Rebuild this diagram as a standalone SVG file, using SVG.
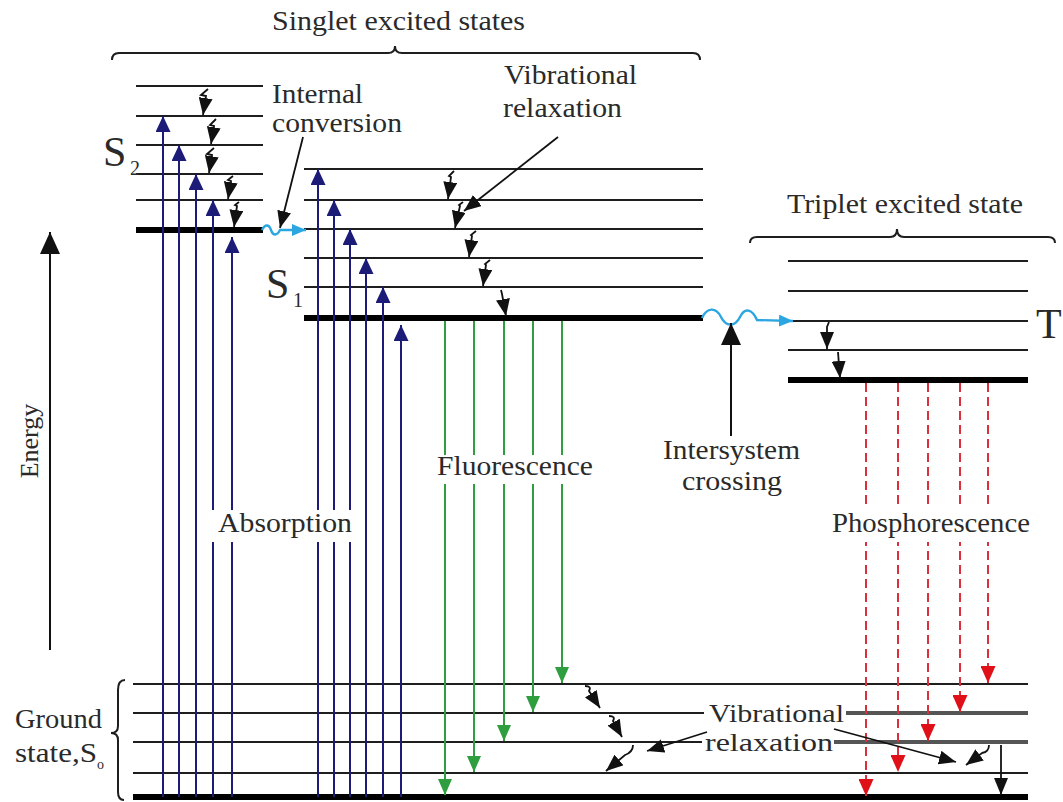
<svg xmlns="http://www.w3.org/2000/svg" width="1063" height="802" viewBox="0 0 1063 802">
<style>
.lv{stroke:#1e1e1e;stroke-width:2;fill:none}
.lvt{stroke:#000;stroke-width:6;fill:none}
.brace{stroke:#1e1e1e;stroke-width:2;fill:none}
.abs{stroke:#1c1c78;stroke-width:2;fill:none;marker-end:url(#hNavy)}
.flu{stroke:#2e9e3e;stroke-width:2;fill:none;marker-end:url(#hGreen)}
.pho{stroke:#d8303c;stroke-width:2;stroke-dasharray:9 5;fill:none;marker-end:url(#hRed)}
.vr{stroke:#111;stroke-width:1.8;fill:none;marker-end:url(#hBlack)}
.wave{stroke:#2ba6e1;stroke-width:2.4;fill:none;marker-end:url(#hCyan)}
.big{stroke:#111;stroke-width:2;fill:none;marker-end:url(#hBig)}
.t{font-family:'Liberation Serif','Times New Roman',Times,serif;font-size:28px;fill:#2a2a2a}
.st{font-family:'Liberation Serif','Times New Roman',Times,serif;font-size:42px;fill:#2a2a2a}
.sub{font-family:'Liberation Serif','Times New Roman',Times,serif;font-size:20px;fill:#2a2a2a}
.bg{fill:#fff}
</style>
<defs>
<marker id="hNavy" markerUnits="userSpaceOnUse" viewBox="0 0 16 15" markerWidth="16" markerHeight="15" refX="16" refY="7.5" orient="auto"><path d="M0,0L16,7.5L0,15z" fill="#1c1c78"/></marker>
<marker id="hGreen" markerUnits="userSpaceOnUse" viewBox="0 0 16 14" markerWidth="16" markerHeight="14" refX="16" refY="7" orient="auto"><path d="M0,0L16,7L0,14z" fill="#2e9e3e"/></marker>
<marker id="hRed" markerUnits="userSpaceOnUse" viewBox="0 0 17 15" markerWidth="17" markerHeight="15" refX="17" refY="7.5" orient="auto"><path d="M0,0L17,7.5L0,15z" fill="#e01018"/></marker>
<marker id="hBlack" markerUnits="userSpaceOnUse" viewBox="0 0 17 14" markerWidth="17" markerHeight="14" refX="17" refY="7" orient="auto"><path d="M0,0L17,7L0,14z" fill="#111"/></marker>
<marker id="hCyan" markerUnits="userSpaceOnUse" viewBox="0 0 14 12" markerWidth="14" markerHeight="12" refX="14" refY="6" orient="auto"><path d="M0,0L14,6L0,12z" fill="#2ba6e1"/></marker>
<marker id="hBig" markerUnits="userSpaceOnUse" viewBox="0 0 22 20" markerWidth="22" markerHeight="20" refX="22" refY="10" orient="auto"><path d="M0,0L22,10L0,20z" fill="#111"/></marker>
</defs>
<rect width="1063" height="802" fill="#fff"/>

<g id="braces">
<path class="brace" d="M112,60 Q112,53 119,53 L388,53 Q395,53 395,46 Q395,53 402,53 L693,53 Q700,53 700,60"/>
<path class="brace" d="M750,243 Q750,237 757,237 L890,237 Q897,237 897,229 Q897,237 904,237 L1048,237 Q1055,237 1055,243"/>
<path class="brace" d="M125,680 Q118,680 118,690 L118,726 Q118,733 111,733 Q118,733 118,740 L118,792 Q118,800 124,800"/>
</g>

<g id="S2">
<path class="lv" d="M136,86H263M136,116H263M136,145H263M136,174H263M136,200H263"/>
<path class="lvt" d="M136,230H263"/>
</g>
<g id="S1">
<path class="lv" d="M304,169H703M304,200H703M304,229H703M304,258H703M304,287H703"/>
<path class="lvt" d="M304,318H703"/>
</g>
<g id="T">
<path class="lv" d="M788,261H1028M788,291H1028M788,321H1028M788,350H1028"/>
<path class="lvt" d="M788,380H1028"/>
</g>
<g id="S0">
<path class="lv" d="M133,684H1028M133,713H1028M133,742H1028M133,773H1028"/>
<path class="lvt" d="M133,797H1028"/>
<path d="M846,713H1028M834,742H1028" stroke="#555" stroke-width="4" fill="none"/>
</g>

<g id="connectors">
<path class="abs" d="M163,797V116"/>
<path class="abs" d="M179,797V145"/>
<path class="abs" d="M196,797V174"/>
<path class="abs" d="M213,797V200"/>
<path class="abs" d="M232,797V237"/>
<path class="abs" d="M318,797V169"/>
<path class="abs" d="M334,797V200"/>
<path class="abs" d="M350,797V229"/>
<path class="abs" d="M366,797V258"/>
<path class="abs" d="M383,797V287"/>
<path class="abs" d="M401,797V325"/>
<path class="flu" d="M445,321V795"/>
<path class="flu" d="M474,321V772"/>
<path class="flu" d="M504,321V741"/>
<path class="flu" d="M533,321V712"/>
<path class="flu" d="M562,321V683"/>
<path class="pho" d="M866,383V796"/>
<path class="pho" d="M898,383V772"/>
<path class="pho" d="M928,383V741"/>
<path class="pho" d="M960,383V712"/>
<path class="pho" d="M988,383V683"/>
<path class="vr" d="M208,89L201,95L206,96L203,115"/>
<path class="vr" d="M216,119L210,125L214,126L211,144"/>
<path class="vr" d="M214,148L207,154L212,155L209,173"/>
<path class="vr" d="M233,176L228,180L231,181L228,199"/>
<path class="vr" d="M239,202L235,205L237,206L234,227"/>
<path class="vr" d="M454,171L449,176L451,177L448,199"/>
<path class="vr" d="M463,202L459,205L460,206L455,228"/>
<path class="vr" d="M476,231L471,235L472,236L469,257"/>
<path class="vr" d="M490,260L485,264L486,265L483,286"/>
<path class="vr" d="M501,290L502,294L506,316"/>
<path class="vr" d="M829,322L827,327L827,349"/>
<path class="vr" d="M838,352L840,378"/>
<path class="vr" d="M585,686Q592,686 589,691L600,708"/>
<path class="vr" d="M609,716Q616,716 613,721L622,737"/>
<path class="vr" d="M633,745Q633,752 625,755L606,771"/>
<path class="vr" d="M989,745Q989,752 982,753L966,765"/>
<path class="vr" d="M1001,745V795"/>
<path class="wave" d="M262,230C265,224 269,224 271,230C273,236 277,236 280,230L306,230"/>
<path class="wave" d="M702,318C707,307 716,307 721,317C726,327 735,327 740,317C745,307 752,309 757,320L793,321"/>
<path class="vr" d="M303,137L280,228"/>
<path class="vr" d="M558,137L464,211"/>
<path class="big" d="M731,436V323"/>
<path class="big" d="M50,650V232"/>
</g>

<g id="labels" font-family="Liberation Serif, Times New Roman, serif">
<text class="t" x="272" y="30" textLength="253" lengthAdjust="spacingAndGlyphs">Singlet excited states</text>
<text class="t" x="787" y="213" textLength="236" lengthAdjust="spacingAndGlyphs">Triplet excited state</text>
<text class="t" x="272" y="103" textLength="91" lengthAdjust="spacingAndGlyphs">Internal</text>
<text class="t" x="272" y="132" textLength="130" lengthAdjust="spacingAndGlyphs">conversion</text>
<text class="t" x="504" y="84" textLength="133" lengthAdjust="spacingAndGlyphs">Vibrational</text>
<text class="t" x="503" y="117" textLength="119" lengthAdjust="spacingAndGlyphs">relaxation</text>
<text class="t" x="663" y="459" textLength="137" lengthAdjust="spacingAndGlyphs">Intersystem</text>
<text class="t" x="682" y="490" textLength="100" lengthAdjust="spacingAndGlyphs">crossing</text>
<rect class="bg" x="434" y="455" width="163" height="29"/>
<text class="t" x="437" y="475" textLength="156" lengthAdjust="spacingAndGlyphs">Fluorescence</text>
<rect class="bg" x="208" y="510" width="147" height="32"/>
<text class="t" x="218" y="532" textLength="134" lengthAdjust="spacingAndGlyphs">Absorption</text>
<rect class="bg" x="828" y="509" width="206" height="33"/>
<text class="t" x="832" y="532" textLength="198" lengthAdjust="spacingAndGlyphs">Phosphorescence</text>
<text class="t" transform="translate(38,441) rotate(-90)" text-anchor="middle" style="font-size:26px">Energy</text>
<text class="t" x="15" y="728" textLength="87" lengthAdjust="spacingAndGlyphs">Ground</text>
<text class="t" x="15" y="762" textLength="82" lengthAdjust="spacingAndGlyphs">state,S</text>
<text class="sub" x="97" y="769" style="font-size:14px">o</text>
<text class="st" x="103" y="166">S</text><text class="sub" x="130" y="175">2</text>
<text class="st" x="266" y="298">S</text><text class="sub" x="293" y="307">1</text>
<text class="st" x="1036" y="338">T</text>
<rect class="bg" x="704" y="700" width="142" height="27"/>
<rect class="bg" x="702" y="728" width="132" height="25"/>
<text class="t" x="709" y="722" textLength="135" lengthAdjust="spacingAndGlyphs" style="font-size:26px">Vibrational</text>
<text class="t" x="705" y="751" textLength="128" lengthAdjust="spacingAndGlyphs" style="font-size:26px">relaxation</text>
<path class="vr" d="M707,732L647,751"/>
<path class="vr" d="M834,729L956,762"/>
</g>
</svg>
